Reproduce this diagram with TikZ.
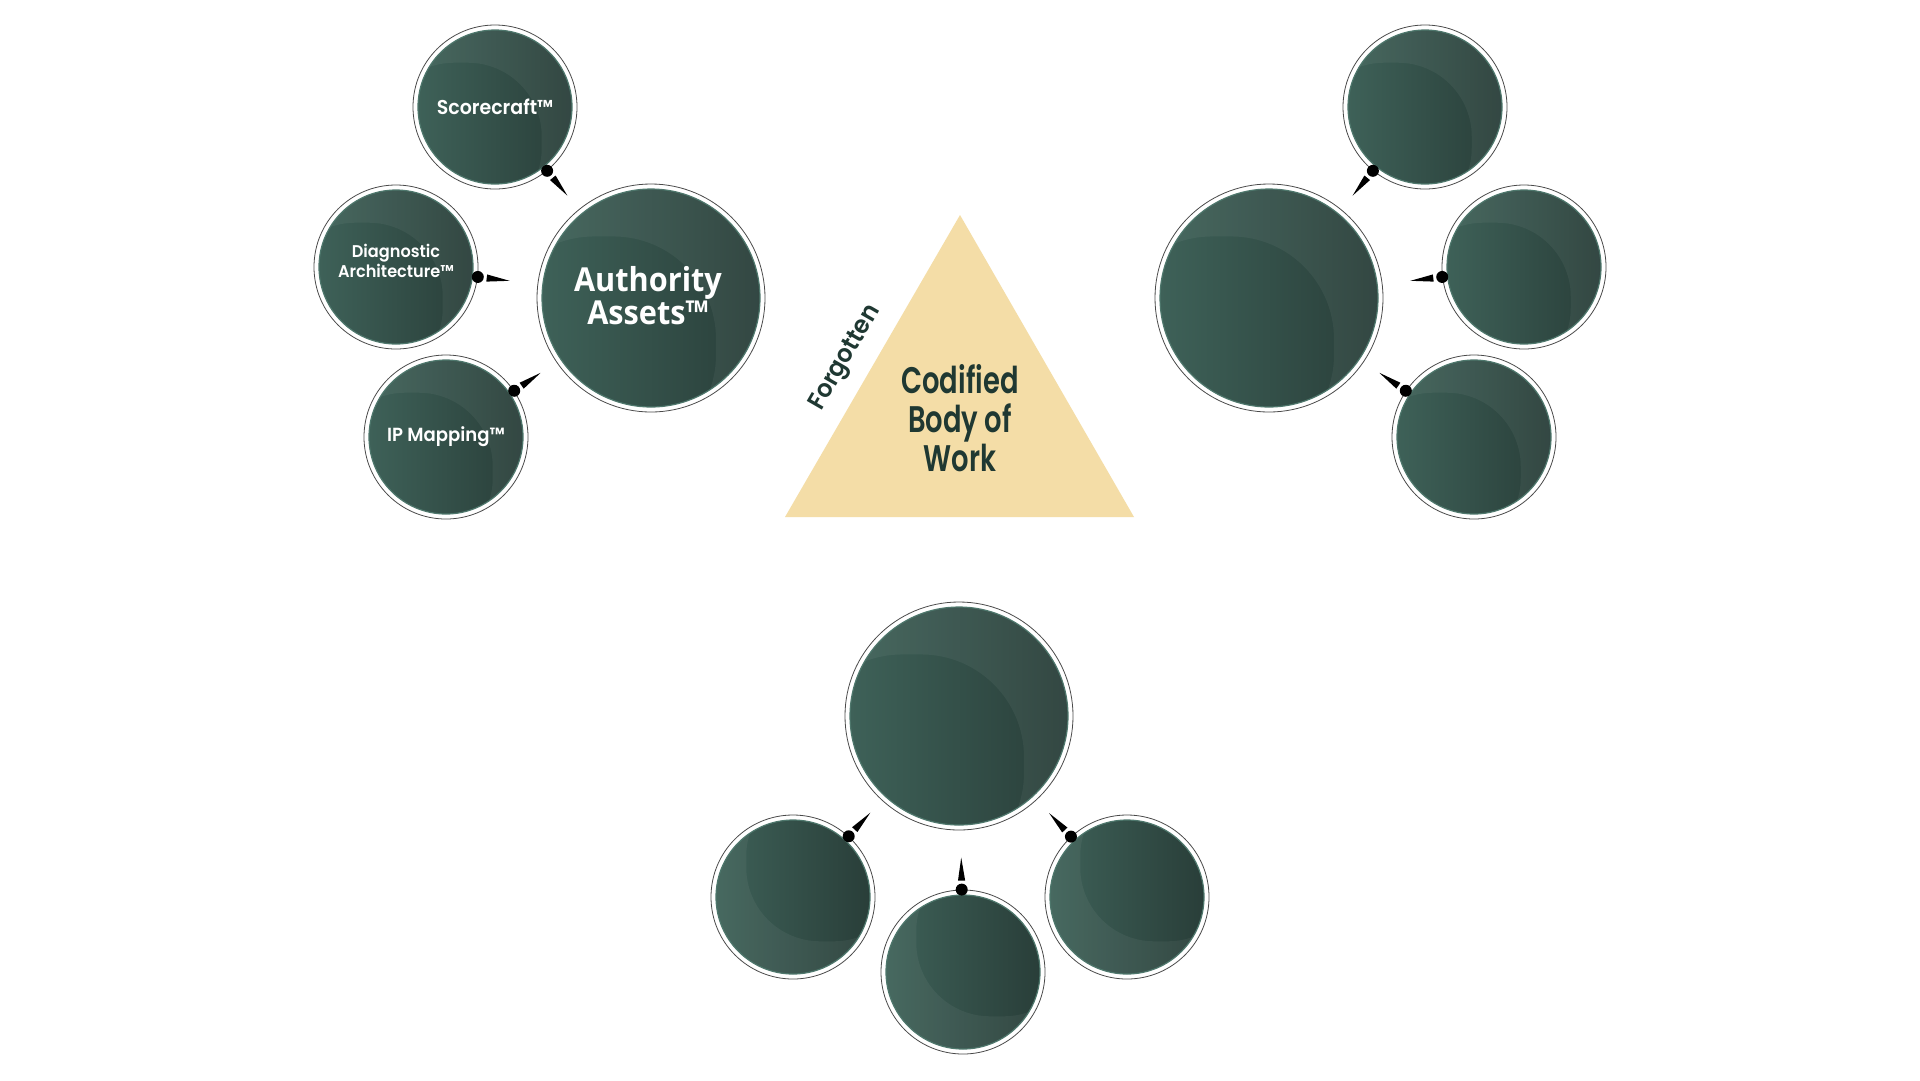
\documentclass[tikz,border=0pt]{standalone}
\usepackage{fontspec}
\newfontfamily\geofont{Poppins}[BoldFont={* SemiBold},FakeStretch=0.95]
\newfontfamily\narrowgeo{Poppins}[BoldFont={* SemiBold},FakeStretch=0.74]
\newfontfamily\condfont{Open Sans}[FakeStretch=0.93]
\usetikzlibrary{calc}
\definecolor{disclight}{HTML}{3E6158}
\definecolor{discdark}{HTML}{293E39}
\definecolor{discrim}{HTML}{4E776C}
\definecolor{ringgray}{HTML}{4A4A4A}
\definecolor{sand}{HTML}{F4DDA7}
\definecolor{inkgreen}{HTML}{1F3832}
\definecolor{pin}{HTML}{161616}
\newcommand\glass[2]{%
  \begin{scope}[shift={(path picture bounding box.center)}]
    \fill[left color=disclight,right color=discdark] (0,0) circle (#1-5);
    \begin{scope}
      \clip (0,0) circle (#1-5);
      \fill[white,opacity=0.05,even odd rule]
        (0,0) circle (#1) [rounded corners=0.9*#1]
        (-1.4*#2*#1,-0.54*#2*#1) rectangle (0.57*#2*#1,1.4*#2*#1);
    \end{scope}
    \draw[discrim,line width=1.2pt] (0,0) circle (#1-5);
  \end{scope}}
\newcommand\pointer[2]{%
  \path (#1) -- (#2) coordinate[pos=0] (#1-dot);
  \fill[pin] (#1-dot) circle (6);
  \fill[pin] let \p1=($(#2)-(#1)$) in [shift={(#1-dot)},rotate={atan2(\y1,\x1)}]
    (9,-3.6) -- (32,0) -- (9,3.6) -- cycle;}
\begin{document}
\begin{tikzpicture}[x=1pt,y=-1pt,
    bubble/.style 2 args={circle,draw=ringgray,line width=0.8pt,fill=white,inner sep=0pt,
      minimum size=2*#1,path picture={\glass{#1}{#2}}},
    smallbubble/.style={bubble={82}{1}},
    flipbubble/.style={bubble={82}{-1}},
    bigbubble/.style={bubble={114}{1}},
    tag/.style={text=white,align=center,inner sep=0pt,font=\geofont\bfseries}]
  \fill[white] (0,0) rectangle (1920,1080);
  \useasboundingbox (0,0) rectangle (1920,1080);

  \coordinate (top) at (960,215);
  \coordinate (bl) at (785,517);
  \coordinate (br) at (1134,517);
  \fill[sand] (top) -- (br) -- (bl) -- cycle;
  \node[text=inkgreen,font=\narrowgeo\bfseries\fontsize{37}{39}\selectfont,align=center] (body)
    at (960,418) {Codified\\Body of\\Work};
  \node[text=inkgreen,font=\geofont\bfseries\fontsize{25}{26}\selectfont,rotate=60] (lost)
    at (846,358) {Forgotten};

  \node[bigbubble,label={[tag,xshift=-3pt,yshift=2pt,font=\condfont\bfseries\fontsize{33}{33}\selectfont]center:{Authority\\Assets™}}]
    (aa) at (651,298) {};
  \node[smallbubble,label={[tag,font=\geofont\bfseries\fontsize{20}{22}\selectfont]center:Scorecraft™}]
    (sc) at (495,107) {};
  \node[smallbubble,label={[tag,yshift=6pt,font=\geofont\bfseries\fontsize{17}{20}\selectfont]center:{Diagnostic\\Architecture™}}]
    (da) at (396,267) {};
  \node[smallbubble,label={[tag,font=\geofont\bfseries\fontsize{19}{22}\selectfont]center:IP Mapping™}]
    (ip) at (446,437) {};
  \pointer{sc}{aa}
  \pointer{da}{aa}
  \pointer{ip}{aa}

  \node[bigbubble] (rb) at (1269,298) {};
  \node[smallbubble] (r1) at (1425,107) {};
  \node[smallbubble] (r2) at (1524,267) {};
  \node[smallbubble] (r3) at (1474,437) {};
  \pointer{r1}{rb}
  \pointer{r2}{rb}
  \pointer{r3}{rb}

  \node[bigbubble] (bb) at (959,716) {};
  \node[flipbubble] (b1) at (793,897) {};
  \node[flipbubble] (b2) at (963,972) {};
  \node[flipbubble] (b3) at (1127,897) {};
  \pointer{b1}{bb}
  \pointer{b2}{bb}
  \pointer{b3}{bb}
\end{tikzpicture}
\end{document}
